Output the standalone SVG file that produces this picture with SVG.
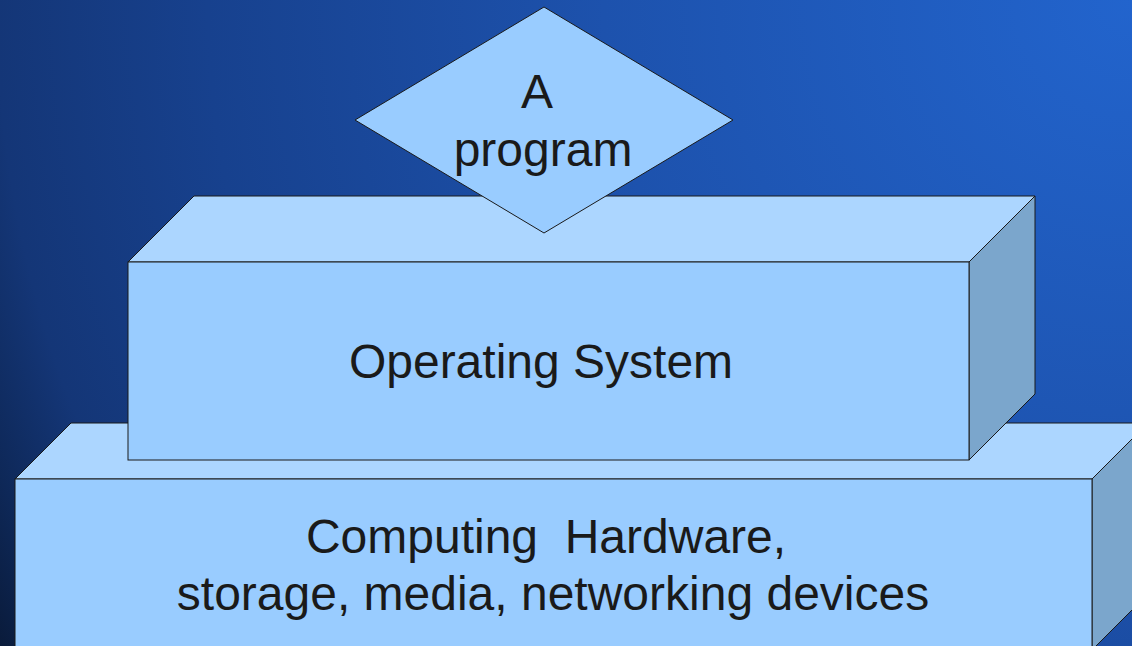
<svg xmlns="http://www.w3.org/2000/svg" width="1132" height="646" viewBox="0 0 1132 646">
<defs>
<radialGradient id="bg" gradientUnits="userSpaceOnUse" cx="1132" cy="0" r="1320">
<stop offset="0" stop-color="#2264cd"/>
<stop offset="0.4" stop-color="#1d52ad"/>
<stop offset="0.7" stop-color="#17418e"/>
<stop offset="0.86" stop-color="#143677"/>
<stop offset="0.93" stop-color="#0e2858"/>
<stop offset="1" stop-color="#091834"/>
</radialGradient>
<style>
.front{fill:#99ccff;stroke:#1a1a1a;stroke-width:1}
.top{fill:#acd6ff;stroke:#1a1a1a;stroke-width:1;stroke-linejoin:round}
.side{fill:#7ba6cc;stroke:#1a1a1a;stroke-width:1;stroke-linejoin:round}
.lbl{font-family:"Liberation Sans",Arial,sans-serif;font-size:48px;fill:#1a1a1a;text-anchor:middle}
</style>
</defs>
<rect x="0" y="0" width="1132" height="646" fill="url(#bg)"/>
<g id="hardware">
<polygon class="top" points="15,479 71,423 1148,423 1092,479"/>
<polygon class="side" points="1092,479 1148,423 1148,594 1092,650"/>
<rect class="front" x="15" y="479" width="1077" height="171"/>
<text class="lbl" x="546" y="553" xml:space="preserve">Computing  Hardware,</text>
<text class="lbl" x="553" y="610">storage, media, networking devices</text>
</g>
<g id="os">
<polygon class="top" points="128,262 194,196 1035,196 969,262"/>
<polygon class="side" points="969,262 1035,196 1035,394 969,460"/>
<rect class="front" x="128" y="262" width="841" height="198"/>
<text class="lbl" x="541" y="378">Operating System</text>
</g>
<g id="program">
<polygon class="front" points="544,7 733,120 544,233 355,120"/>
<text class="lbl" x="537" y="108">A</text>
<text class="lbl" x="543" y="166">program</text>
</g>
<g id="connectors"/>
</svg>
